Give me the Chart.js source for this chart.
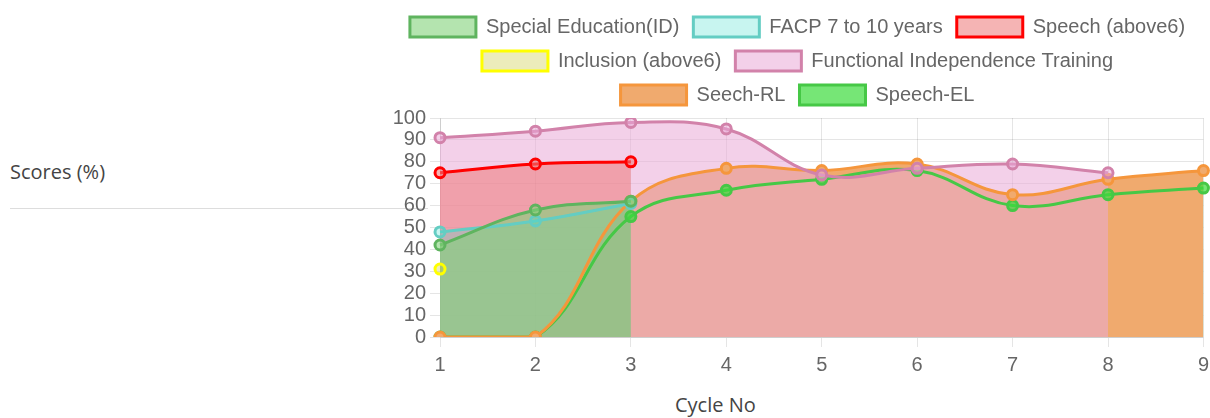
<!DOCTYPE html>
<html>
<head>
<meta charset="utf-8">
<script src="https://cdn.jsdelivr.net/npm/chart.js@4"></script>
<style>
  html, body { margin: 0; padding: 0; background: #fff; }
  body { width: 1210px; height: 418px; position: relative; overflow: hidden; }
  .side-label { position: absolute; left: 10px; top: 162px; font: 20px/20px "Open Sans", sans-serif; color: #444; }
  .rule { position: absolute; left: 10px; top: 208px; width: 418px; border-top: 1px solid #ddd; }
  .x-title { position: absolute; left: 675px; top: 395px; font: 20px/20px "Open Sans", sans-serif; color: #444; }
  #wrap { position: absolute; left: 376px; top: 0; width: 839px; height: 383px; }
</style>
</head>
<body>
<div class="side-label">Scores (%)</div>
<div class="rule"></div>
<div class="x-title">Cycle No</div>
<div id="wrap"><canvas id="chart"></canvas></div>
<script>
const CYCLES = ['1', '2', '3', '4', '5', '6', '7', '8', '9'];

const SPECIAL_ED = [42, 58, 62];
const FACP = [48, 53, 61];
const SPEECH = [75, 79, 80];
const INCLUSION = [31];
const FIT = [91, 94, 98, 95, 74, 77, 79, 75];
const SEECH_RL = [0, 0, 62, 77, 76, 79, 65, 72, 76];
const SPEECH_EL = [0, 0, 55, 67, 72, 76, 60, 65, 68];

// label, values, line colour, fill colour
const SERIES = [
  ['Special Education(ID)', SPECIAL_ED, 'rgb(95,180,95)', 'rgba(130,210,122,0.6)'],
  ['FACP 7 to 10 years', FACP, 'rgb(100,205,195)', 'rgba(72,222,205,0.3)'],
  ['Speech (above6)', SPEECH, 'rgb(255,0,0)', 'rgba(237,123,123,0.57)'],
  ['Inclusion (above6)', INCLUSION, 'rgb(255,255,0)', 'rgba(200,200,60,0.35)'],
  ['Functional Independence Training', FIT, 'rgb(210,130,170)', 'rgba(233,170,215,0.55)'],
  ['Seech-RL', SEECH_RL, 'rgb(245,150,60)', 'rgb(240,170,110)'],
  ['Speech-EL', SPEECH_EL, 'rgb(70,200,70)', 'rgba(60,220,60,0.7)'],
];

function makeDataset([label, data, line, fill]) {
  return {
    label,
    data,
    borderColor: line,
    backgroundColor: fill,
    pointBackgroundColor: fill,
    pointBorderColor: line,
    borderWidth: 3,
    pointRadius: 5,
    pointBorderWidth: 3,
    tension: 0.4,
    fill: 'origin',
  };
}

// a little breathing room between the legend and the plot
const legendGap = {
  id: 'legendGap',
  beforeInit(chart) {
    const fit = chart.legend.fit;
    chart.legend.fit = function () { fit.call(this); this.height += 3; };
  },
};

const FONT = {family: 'Liberation Sans, Arial, sans-serif', size: 20};

new Chart(document.getElementById('chart'), {
  type: 'line',
  data: {labels: CYCLES, datasets: SERIES.map(makeDataset)},
  plugins: [legendGap],
  options: {
    responsive: true,
    maintainAspectRatio: false,
    animation: false,
    layout: {padding: {left: 10, right: 6, top: 3, bottom: 0}},
    plugins: {
      // all fills first, then the lines on top (old v2 behaviour)
      filler: {drawTime: 'beforeDatasetsDraw'},
      tooltip: {enabled: false},
      legend: {
        labels: {
          boxWidth: 66,
          boxHeight: 20,
          padding: 14,
          color: '#666',
          font: FONT,
        },
      },
    },
    scales: {
      x: {
        grid: {color: 'rgba(0,0,0,0.1)', tickLength: 10},
        ticks: {color: '#666', font: FONT, padding: 6},
      },
      y: {
        min: 0,
        max: 100,
        afterFit: (s) => { s.width = 54; },
        grid: {color: 'rgba(0,0,0,0.1)', tickLength: 10},
        ticks: {stepSize: 10, autoSkip: false, color: '#666', font: FONT, padding: 4},
      },
    },
  },
});
</script>
</body>
</html>
